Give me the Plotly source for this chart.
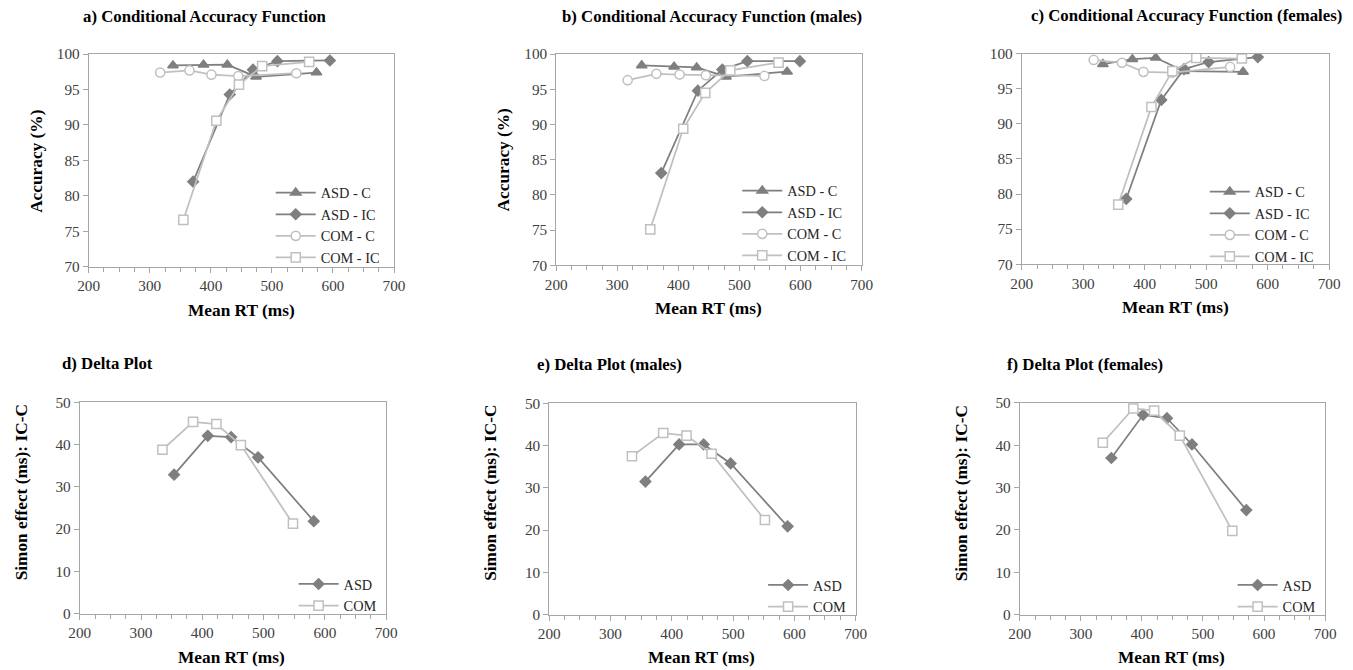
import plotly.graph_objects as go

# The captured page region is 1369x686 (8px default body margin included) and
# is scaled to 1353x670; positions below are given in final-picture pixels.
OUT_W, OUT_H = 1353, 670
CAP_W, CAP_H = 1369, 686
OFF = 8
SX, SY = OUT_W / CAP_W, OUT_H / CAP_H
W, H = CAP_W - OFF, CAP_H - OFF
FS = 2 / (SX + SY)

X_RANGE = [200, 700]
X_TICKS = [200, 300, 400, 500, 600, 700]
CAF_Y_RANGE = [70, 100]
CAF_Y_TICKS = [70, 75, 80, 85, 90, 95, 100]
DELTA_Y_RANGE = [0, 50]
DELTA_Y_TICKS = [0, 10, 20, 30, 40, 50]

CAF_SERIES = ["ASD - C", "ASD - IC", "COM - C", "COM - IC"]
DELTA_SERIES = ["ASD", "COM"]

a_asd_c_rt = [338, 388, 427, 474, 573]
a_asd_c_acc = [98.4, 98.5, 98.5, 96.8, 97.4]
a_asd_ic_rt = [371, 431, 469, 509, 595]
a_asd_ic_acc = [82.0, 94.3, 97.8, 99.0, 99.1]
a_com_c_rt = [317, 365, 401, 445, 540]
a_com_c_acc = [97.4, 97.7, 97.1, 96.9, 97.3]
a_com_ic_rt = [355, 409, 446, 484, 561]
a_com_ic_acc = [76.6, 90.6, 95.7, 98.3, 98.9]

b_asd_c_rt = [340, 393, 430, 478, 578]
b_asd_c_acc = [98.4, 98.2, 98.1, 96.8, 97.5]
b_asd_ic_rt = [372, 432, 472, 513, 599]
b_asd_ic_acc = [83.1, 94.8, 97.8, 99.0, 99.0]
b_com_c_rt = [317, 364, 402, 445, 541]
b_com_c_acc = [96.3, 97.2, 97.1, 97.0, 96.9]
b_com_ic_rt = [354, 408, 444, 485, 564]
b_com_ic_acc = [75.1, 89.4, 94.5, 97.7, 98.8]

c_asd_c_rt = [332, 380, 418, 464, 560]
c_asd_c_acc = [98.5, 99.2, 99.4, 97.5, 97.4]
c_asd_ic_rt = [370, 427, 464, 504, 584]
c_asd_ic_acc = [79.3, 93.4, 97.8, 98.8, 99.5]
c_com_c_rt = [317, 363, 398, 445, 539]
c_com_c_acc = [99.1, 98.7, 97.4, 97.3, 98.1]
c_com_ic_rt = [357, 411, 445, 484, 558]
c_com_ic_acc = [78.5, 92.4, 97.5, 99.4, 99.3]

d_asd_rt = [354, 409, 447, 491, 582]
d_asd_eff = [32.9, 42.1, 41.8, 37.0, 21.9]
d_com_rt = [335, 385, 423, 463, 548]
d_com_eff = [38.8, 45.4, 44.9, 39.9, 21.3]

e_asd_rt = [357, 412, 452, 496, 589]
e_asd_eff = [31.5, 40.3, 40.3, 35.8, 20.9]
e_com_rt = [335, 386, 424, 465, 552]
e_com_eff = [37.5, 43.0, 42.4, 38.1, 22.4]

f_asd_rt = [350, 402, 441, 482, 571]
f_asd_eff = [37.0, 47.2, 46.4, 40.2, 24.7]
f_com_rt = [336, 386, 420, 462, 548]
f_com_eff = [40.6, 48.7, 48.2, 42.3, 19.8]

TITLES = [
    "a) Conditional Accuracy Function",
    "b) Conditional Accuracy Function (males)",
    "c) Conditional Accuracy Function (females)",
    "d) Delta Plot",
    "e) Delta Plot (males)",
    "f) Delta Plot (females)",
]
X_TITLE = "Mean RT (ms)"
CAF_Y_TITLE = "Accuracy (%)"
DELTA_Y_TITLE = "Simon effect (ms): IC-C"

FONT = '"Liberation Serif", "Times New Roman", "DejaVu Serif", serif'
DARK = "#7f7f7f"
LIGHT = "#c0c0c0"
AXC = "#a6a6a6"


def px(x):
    return (x / SX - OFF) / W


def py(y):
    return 1 - (y / SY - OFF) / H


BOXES = [
    (86, 393, 53, 266),
    (556, 863, 53, 264.5),
    (1024, 1333, 52.5, 263.5),
    (77, 385, 402, 613.5),
    (549, 857, 403, 614.5),
    (1022, 1329, 402.5, 614.5),
]

STYLE = {
    "ASD - C": dict(color=DARK, symbol="triangle-up", size=9, fill=DARK),
    "ASD - IC": dict(color=DARK, symbol="diamond", size=8, fill=DARK),
    "COM - C": dict(color=LIGHT, symbol="circle", size=9, fill="white"),
    "COM - IC": dict(color=LIGHT, symbol="square", size=9, fill="white"),
    "ASD": dict(color=DARK, symbol="diamond", size=8, fill=DARK),
    "COM": dict(color=LIGHT, symbol="square", size=9, fill="white"),
}

panels = [
    [(a_asd_c_rt, a_asd_c_acc), (a_asd_ic_rt, a_asd_ic_acc), (a_com_c_rt, a_com_c_acc), (a_com_ic_rt, a_com_ic_acc)],
    [(b_asd_c_rt, b_asd_c_acc), (b_asd_ic_rt, b_asd_ic_acc), (b_com_c_rt, b_com_c_acc), (b_com_ic_rt, b_com_ic_acc)],
    [(c_asd_c_rt, c_asd_c_acc), (c_asd_ic_rt, c_asd_ic_acc), (c_com_c_rt, c_com_c_acc), (c_com_ic_rt, c_com_ic_acc)],
    [(d_asd_rt, d_asd_eff), (d_com_rt, d_com_eff)],
    [(e_asd_rt, e_asd_eff), (e_com_rt, e_com_eff)],
    [(f_asd_rt, f_asd_eff), (f_com_rt, f_com_eff)],
]

fig = go.Figure()
layout = dict(
    width=W, height=H,
    margin=dict(l=0, r=0, t=0, b=0),
    paper_bgcolor="white", plot_bgcolor="white",
    font=dict(family=FONT, size=15 * FS, color="#262626"),
    showlegend=True,
)

# (line start x, first-row centre y) of each legend, in picture pixels
LEG_POS = [(275, 190), (744, 188), (1214, 189), (298, 582), (770, 583), (1242, 583)]

annotations = []
for i, (series_data, box) in enumerate(zip(panels, BOXES)):
    k = i + 1
    xa = "xaxis" if k == 1 else f"xaxis{k}"
    ya = "yaxis" if k == 1 else f"yaxis{k}"
    xref = "x" if k == 1 else f"x{k}"
    yref = "y" if k == 1 else f"y{k}"
    leg = "legend" if k == 1 else f"legend{k}"
    names = CAF_SERIES if i < 3 else DELTA_SERIES
    for name, (xs, ys) in zip(names, series_data):
        st = STYLE[name]
        fig.add_trace(go.Scatter(
            x=xs, y=ys, name=name, mode="lines+markers",
            xaxis=xref, yaxis=yref, legend=leg,
            line=dict(color=st["color"], width=1.75),
            marker=dict(symbol=st["symbol"], size=st["size"] * FS, color=st["fill"],
                        line=dict(color=st["color"], width=1.5)),
        ))
    l, r, t, b = box
    layout[xa] = dict(
        domain=[px(l), px(r)], anchor=yref, range=X_RANGE, tickvals=X_TICKS,
        showline=True, linecolor=AXC, linewidth=1, mirror=True,
        ticks="outside", ticklen=5, tickcolor=AXC, showgrid=False, zeroline=False,
        minor=dict(dtick=25, tick0=200, ticks="outside", ticklen=4, tickcolor=AXC, showgrid=False),
        tickfont=dict(family=FONT, size=15 * FS, color="#404040"),
        fixedrange=True,
    )
    layout[ya] = dict(
        domain=[py(b), py(t)], anchor=xref,
        range=CAF_Y_RANGE if i < 3 else DELTA_Y_RANGE,
        tickvals=CAF_Y_TICKS if i < 3 else DELTA_Y_TICKS,
        showline=True, linecolor=AXC, linewidth=1, mirror=True,
        ticks="outside", ticklen=5, tickcolor=AXC, showgrid=False, zeroline=False,
        tickfont=dict(family=FONT, size=15 * FS, color="#404040"),
        fixedrange=True,
    )
    lx, ly = LEG_POS[i]
    layout[leg] = dict(
        x=px(lx - 6), y=py(ly - 14), xanchor="left", yanchor="top",
        bgcolor="rgba(0,0,0,0)", borderwidth=0,
        font=dict(family=FONT, size=14.3, color="#262626"),
        itemwidth=40, tracegroupgap=0,
    )

TITLE_POS = [(78, 15), (560, 15), (1031, 14), (57, 363), (535, 364), (1007, 364)]
for txt, (x, y) in zip(TITLES, TITLE_POS):
    annotations.append(dict(text=f"<b>{txt}</b>", x=px(x), y=py(y), xref="paper", yref="paper",
                            xanchor="left", yanchor="middle", showarrow=False,
                            font=dict(family=FONT, size=16.5 * FS, color="black")))

XT_POS = [(240, 310), (709, 308), (1179, 307), (230, 657), (702, 657), (1175, 657)]
for (x, y) in XT_POS:
    annotations.append(dict(text=f"<b>{X_TITLE}</b>", x=px(x), y=py(y), xref="paper", yref="paper",
                            xanchor="center", yanchor="middle", showarrow=False,
                            font=dict(family=FONT, size=17 * FS, color="black")))

YT = [(CAF_Y_TITLE, 34, 160), (CAF_Y_TITLE, 503, 159), (DELTA_Y_TITLE, 18, 492),
      (DELTA_Y_TITLE, 490, 493), (DELTA_Y_TITLE, 963, 493)]
for txt, x, y in YT:
    annotations.append(dict(text=f"<b>{txt}</b>", x=px(x), y=py(y), xref="paper", yref="paper",
                            xanchor="center", yanchor="middle", showarrow=False, textangle=-90,
                            font=dict(family=FONT, size=17 * FS, color="black")))

layout["annotations"] = annotations
fig.update_layout(**layout)
fig.write_html("out.html")
